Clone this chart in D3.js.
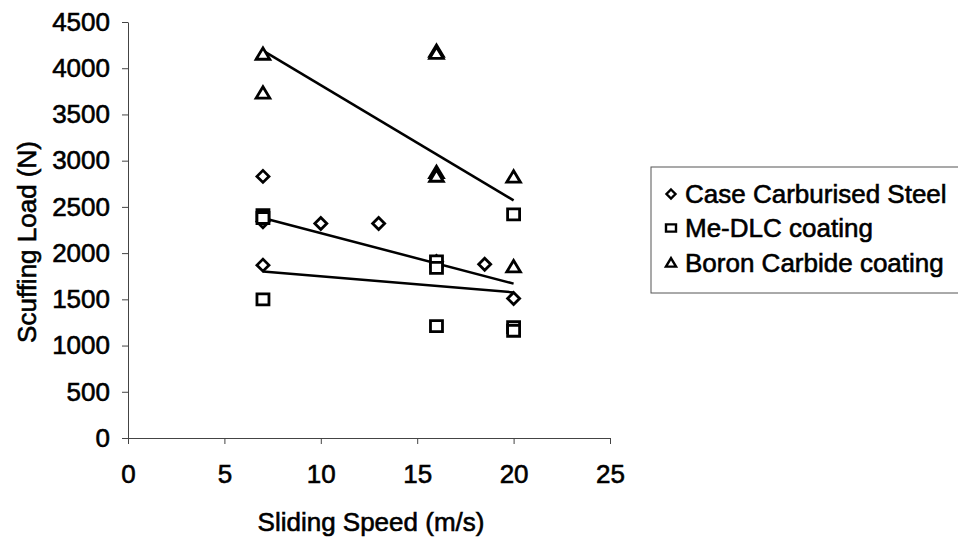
<!DOCTYPE html>
<html>
<head>
<meta charset="utf-8">
<script src="https://cdn.jsdelivr.net/npm/d3@7/dist/d3.min.js"></script>
<style>
  html, body { margin: 0; padding: 0; background: #fff; }
  svg { display: block; font-family: "Liberation Sans", Arial, Helvetica, sans-serif; }
  .lbl { fill: #000; stroke: #000; stroke-width: 0.6px; }
</style>
</head>
<body>
<svg id="chart" width="958" height="540"></svg>
<script>
// Scuffing load measurements against sliding speed, per surface treatment
const steelSpeed  = [7, 7, 7, 10, 13, 16, 18.5, 20];
const steelLoad   = [2830, 2340, 1870, 2320, 2320, 1910, 1880, 1510];

const dlcSpeed    = [7, 7, 7, 16, 16, 16, 20, 20, 20];
const dlcLoad     = [2410, 2380, 1500, 1910, 1840, 1210, 2420, 1200, 1160];

const boronSpeed  = [7, 7, 16, 16, 16, 16, 20, 20];
const boronLoad   = [4150, 3730, 4180, 4160, 2870, 2830, 2820, 1850];

// Linear trend lines, [speed, load] at each end
const steelTrend  = [[7, 1800], [20, 1575]];
const dlcTrend    = [[7, 2380], [20, 1670]];
const boronTrend  = [[7, 4190], [20, 2570]];

const seriesNames = ["Case Carburised Steel", "Me-DLC coating", "Boron Carbide coating"];
const xTicks = [0, 5, 10, 15, 20, 25];
const yTicks = [0, 500, 1000, 1500, 2000, 2500, 3000, 3500, 4000, 4500];

const svg = d3.select("#chart");
const plot = { left: 128, right: 610, top: 22, bottom: 438 };

const x = d3.scaleLinear().domain([0, 25]).range([plot.left, plot.right]);
const y = d3.scaleLinear().domain([0, 4500]).range([plot.bottom, plot.top]);

const FONT = 26;

// Axes
const yAxis = svg.append("g")
  .attr("transform", `translate(${plot.left},0)`)
  .call(d3.axisLeft(y).tickValues(yTicks).tickFormat(d3.format("d"))
    .tickSizeOuter(0).tickSizeInner(6).tickPadding(12));
const xAxis = svg.append("g")
  .attr("transform", `translate(0,${plot.bottom})`)
  .call(d3.axisBottom(x).tickValues(xTicks).tickFormat(d3.format("d"))
    .tickSizeOuter(0).tickSizeInner(6).tickPadding(21));

[yAxis, xAxis].forEach(g => {
  g.selectAll("path, line").attr("stroke", "#444").attr("stroke-width", 1);
  g.selectAll("text").attr("class", "lbl").attr("font-size", FONT)
    .attr("font-family", "\"Liberation Sans\", Arial, sans-serif");
});

// Axis titles
svg.append("text")
  .attr("class", "lbl")
  .attr("x", (plot.left + plot.right) / 2 + 2)
  .attr("y", 531)
  .attr("text-anchor", "middle")
  .attr("font-size", FONT)
  .text("Sliding Speed (m/s)");

svg.append("text")
  .attr("class", "lbl")
  .attr("transform", `translate(36,${(plot.top + plot.bottom) / 2 + 12}) rotate(-90)`)
  .attr("text-anchor", "middle")
  .attr("font-size", FONT)
  .text("Scuffing Load (N)");

// Trend lines
const line = d3.line().x(d => x(d[0])).y(d => y(d[1]));
[steelTrend, dlcTrend, boronTrend].forEach(t => {
  svg.append("path")
    .attr("d", line(t))
    .attr("fill", "none")
    .attr("stroke", "#000")
    .attr("stroke-width", 2.5);
});

// Marker shapes
function diamond(s) { return `M0,${-s}L${s},0L0,${s}L${-s},0Z`; }
function square(w, h) { return `M${-w},${-h}H${w}V${h}H${-w}Z`; }
function triangle(s) { return `M0,${-s}L${s * 1.05},${s * 0.75}H${-s * 1.05}Z`; }

const shapes = [
  () => diamond(6),
  () => square(6, 5.5),
  () => triangle(6.5)
];
const legendShapes = [
  () => diamond(4.5),
  () => square(5, 3.6),
  () => triangle(4.8)
];

const series = [
  { xs: steelSpeed, ys: steelLoad },
  { xs: dlcSpeed,   ys: dlcLoad },
  { xs: boronSpeed, ys: boronLoad }
];

series.forEach((s, i) => {
  svg.append("g").selectAll("path")
    .data(d3.zip(s.xs, s.ys))
    .join("path")
    .attr("transform", d => `translate(${x(d[0])},${y(d[1])})`)
    .attr("d", shapes[i]())
    .attr("fill", "#fff")
    .attr("stroke", "#000")
    .attr("stroke-width", 2.8)
    .attr("stroke-linejoin", "miter");
});

// Legend
const legend = svg.append("g").attr("transform", "translate(651,167)");
legend.append("rect")
  .attr("x", 0).attr("y", 0)
  .attr("width", 330).attr("height", 126)
  .attr("fill", "#fff")
  .attr("stroke", "#555")
  .attr("stroke-width", 1);

const rowY = [27, 61, 96];
seriesNames.forEach((name, i) => {
  legend.append("path")
    .attr("transform", `translate(20,${rowY[i]})`)
    .attr("d", legendShapes[i]())
    .attr("fill", "#fff")
    .attr("stroke", "#000")
    .attr("stroke-width", 2.4);
  legend.append("text")
    .attr("class", "lbl")
    .attr("x", 34)
    .attr("y", rowY[i])
    .attr("dy", "0.36em")
    .attr("font-size", FONT)
    .text(name);
});
</script>
</body>
</html>
